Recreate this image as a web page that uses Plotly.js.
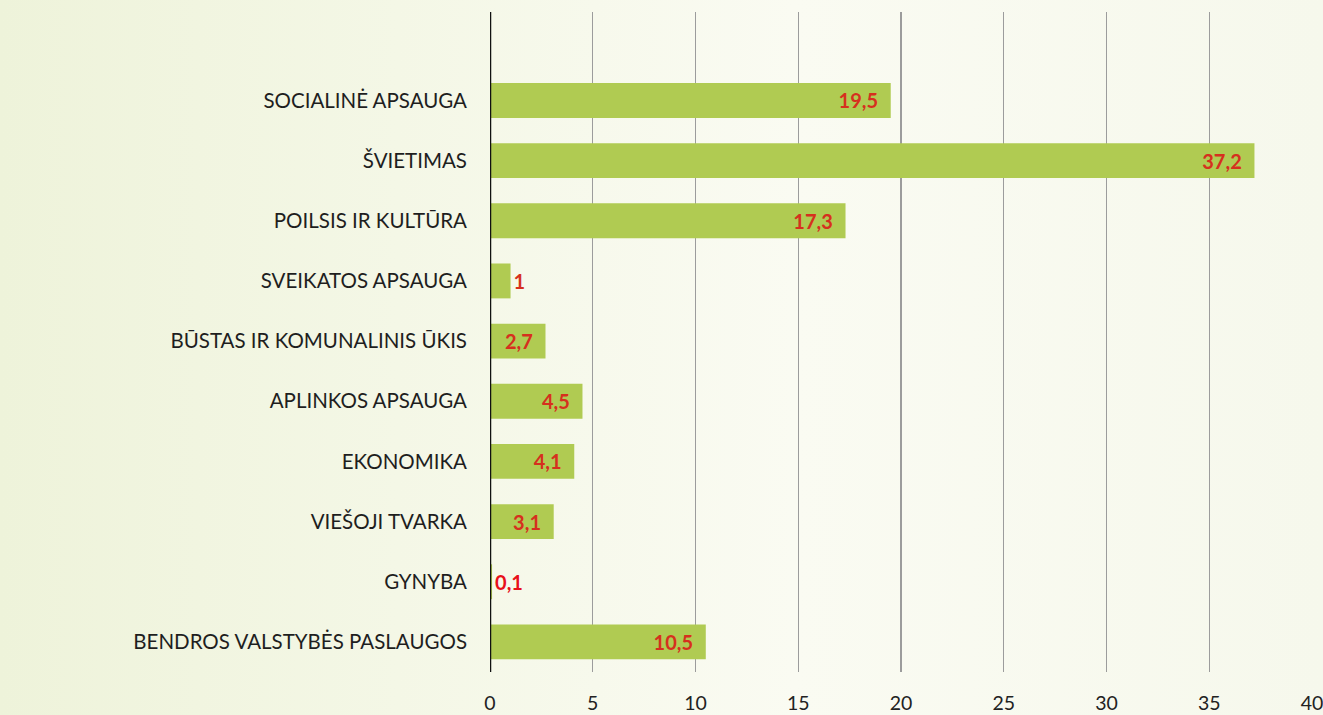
<!DOCTYPE html>
<html><head><meta charset="utf-8">
<script src="https://cdn.plot.ly/plotly-3.0.1.min.js"></script>
<style>html,body{margin:0;padding:0;}
body{background:linear-gradient(to right,#eef3da 0%,#f4f7e6 30%,#fafbf2 60%,#f6f8ec 100%);}
#c{width:1323px;height:715px;}</style>
</head><body><div id="c"></div>
<script>
const categories = ["SOCIALINĖ APSAUGA","ŠVIETIMAS","POILSIS IR KULTŪRA","SVEIKATOS APSAUGA","BŪSTAS IR KOMUNALINIS ŪKIS","APLINKOS APSAUGA","EKONOMIKA","VIEŠOJI TVARKA","GYNYBA","BENDROS VALSTYBĖS PASLAUGOS"];
const values = [19.5,37.2,17.3,1,2.7,4.5,4.1,3.1,0.1,10.5];
const labels = ["19,5","37,2","17,3","1","2,7","4,5","4,1","3,1","0,1","10,5"];
const tickVals = [0,5,10,15,20,25,30,35,40];

const pos = values.map(v => v < 2 ? 'outside' : 'inside');
const tmpl = values.map(v => v < 2 ? '%{text}' : '%{text}\u00a0\u00a0');
const trace = {
  type:'bar', orientation:'h', x: values, y: categories,
  text: labels, texttemplate: tmpl, textposition: pos, insidetextanchor:'end', cliponaxis:false,
  textfont:{family:'Lato, "Open Sans", sans-serif', size:20, color:values.map(v=>v<0.5?'#e8101a':'#d6301e'), weight:'bold'},
  marker:{color:'#b0cb52', line:{width:0}}, width:0.58, hoverinfo:'none'
};
const layout = {
  width:1323, height:715,
  margin:{l:490, r:11, t:12, b:43},
  paper_bgcolor:'rgba(0,0,0,0)', plot_bgcolor:'rgba(0,0,0,0)',
  showlegend:false,
  font:{family:'Lato, "Open Sans", sans-serif', color:'#1e1e1e', size:19},
  xaxis:{range:[0,40], tickvals:tickVals, ticktext:tickVals.map(String), showgrid:true, gridcolor:'#9c9c9c', gridwidth:1.3,
    zeroline:false, showline:false, ticks:'', tickfont:{size:19.5, color:'#222'}, ticklabelstandoff:17,
    ticklabeloverflow:'allow', fixedrange:true},
  yaxis:{type:'category', range:[9.5,-1.47], showgrid:false, zeroline:false, ticks:'', ticklen:0,
    tickfont:{size:20.5, color:'#1e1e1e'}, automargin:false, ticklabelstandoff:22},
  shapes:[{type:'line', xref:'x', yref:'paper', x0:0, x1:0, y0:0, y1:1, line:{color:'#111', width:2.5}}]
};
Plotly.newPlot('c',[trace],layout,{staticPlot:true});
</script></body></html>
